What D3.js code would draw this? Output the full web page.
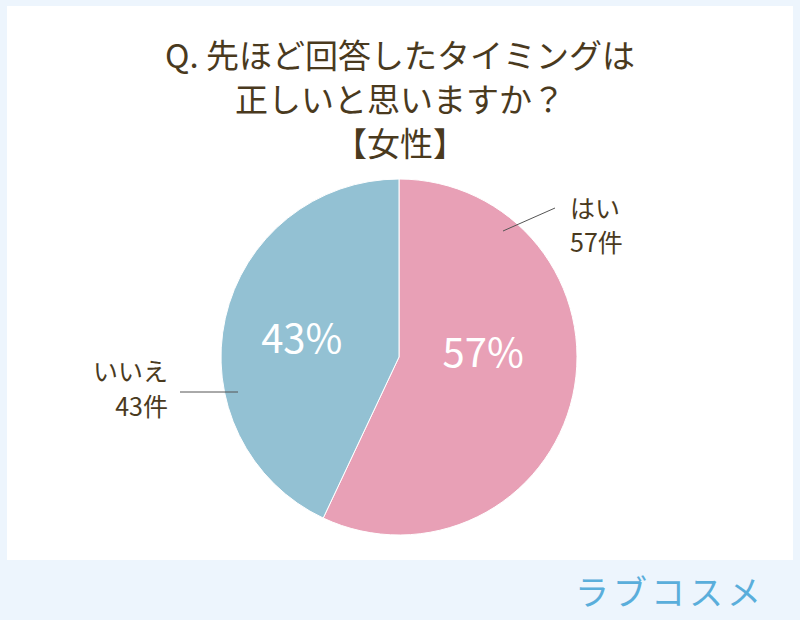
<!DOCTYPE html><html><head><meta charset="utf-8"><script src="https://cdn.jsdelivr.net/npm/d3@7"></script>
<style>body{margin:0}</style></head><body><svg id="c" width="800" height="620"></svg><script>
const categories=["はい","いいえ"];
const values=[57,43];
const labels=["はい\n57件","いいえ\n43件"];
const colors=["#e8a0b6","#93c1d3"];
const titleLines=["Q. 先ほど回答したタイミングは","正しいと思いますか？","【女性】"];
const svg=d3.select("#c");
svg.append("rect").attr("width",800).attr("height",620).attr("fill","#edf5fd");
svg.append("rect").attr("x",7).attr("y",6).attr("width",786).attr("height",554).attr("fill","#fff");
const font="'Noto Sans CJK JP',sans-serif";const tc="#4a3a1e";
svg.selectAll(".t").data(titleLines).join("text").attr("x",400).attr("y",(d,i)=>68+i*44)
 .attr("text-anchor","middle").attr("font-family",font).attr("font-size",33).attr("fill",tc).text(d=>d);
const cx=399,cy=357,r=178;
const pie=d3.pie().sort(null)(values);
const arc=d3.arc().innerRadius(0).outerRadius(r);
const g=svg.append("g").attr("transform",`translate(${cx},${cy})`);
g.selectAll("path").data(pie).join("path").attr("d",arc).attr("fill",(d,i)=>colors[i]).attr("stroke","#fff").attr("stroke-width",1);
const inner=d3.arc().innerRadius(r*0.6).outerRadius(r*0.6);
g.selectAll(".p").data(pie).join("text").attr("transform",(d,i)=>{const c=inner.centroid(d);return `translate(${c[0]+(i?7:-20)},${c[1]+(i?5:-27)})`})
 .attr("text-anchor","middle").attr("dy","0.35em").attr("font-family",font).attr("font-size",40).attr("fill","#fff").text(d=>d.data+"%");
const lab=[{lx:[503,555],ly:[231,208],tx:570,ty:[218,252],anchor:"start"},{lx:[238,180],ly:[392,392],tx:168,ty:[381,416],anchor:"end"}];
lab.forEach((L,i)=>{
 svg.append("line").attr("x1",L.lx[0]).attr("y1",L.ly[0]).attr("x2",L.lx[1]).attr("y2",L.ly[1]).attr("stroke","#555").attr("stroke-width",1);
 labels[i].split("\n").forEach((s,j)=>svg.append("text").attr("x",L.tx).attr("y",L.ty[j]).attr("text-anchor",L.anchor)
  .attr("font-family",font).attr("font-size",25).attr("fill",tc).text(s));
});
svg.append("text").attr("x",765).attr("y",605).attr("text-anchor","end").attr("font-family",font).attr("font-size",34).attr("letter-spacing",4).attr("fill","#5aaedb").text("ラブコスメ");
</script></body></html>
